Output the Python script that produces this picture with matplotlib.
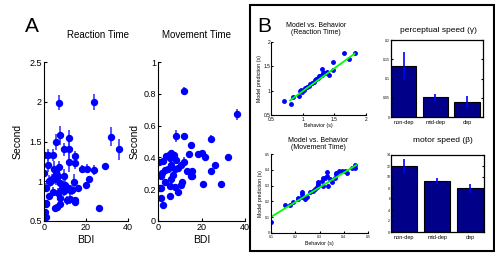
import matplotlib
matplotlib.use("Agg")
import matplotlib.pyplot as plt
import numpy as np
from matplotlib.patches import Rectangle

plt.rcParams['font.family'] = ['Liberation Sans', 'DejaVu Sans']

# Panel A: reaction time vs BDI
rt_bdi = [7.1, 23.8, 32, 35.9, 7.8, 5.8, 11.8, 9.7, 12.1, 0, 2, 4.2, 14.9, 14.9, 11.8,
          1.9, 7.1, 4.7, 18.0, 20.4, 24, 29, 0, 5.8, 9.3, 6.6, 5, 4, 2.4, 21.2,
          14.1, 3, 5.5, 7.4, 10.2, 11.3, 12.5, 8.2, 9.4, 19.9, 0.8, 4.2, 16, 6.6, 2.4,
          10.8, 14.9, 14.9, 7.8, 0.8, 1.1, 5, 6.3, 7.8, 26.2, 0.3, 0.8, 12.5, 13.3]
rt_val = [1.99, 2.0, 1.56, 1.4, 1.58, 1.49, 1.54, 1.4, 1.4, 1.33, 1.33, 1.33, 1.32, 1.23, 1.24,
          1.2, 1.18, 1.16, 1.16, 1.16, 1.14, 1.19, 1.11, 1.12, 1.07, 1.07, 1.06, 1.03, 1.0, 1.03,
          0.99, 0.99, 1.03, 0.98, 0.95, 0.91, 0.89, 0.89, 0.88, 0.95, 0.92, 0.87, 0.91, 0.85, 0.81,
          0.76, 0.74, 0.76, 0.79, 0.73, 0.71, 0.66, 0.67, 0.71, 0.66, 0.61, 0.55, 0.78, 0.89]
rt_err = [0.1, 0.1, 0.12, 0.13, 0.12, 0.1, 0.1, 0.08, 0.12, 0.1, 0.08, 0.08, 0.06, 0.08, 0.12,
          0.08, 0.08, 0.1, 0.04, 0.06, 0.06, 0.04, 0.08, 0.06, 0.08, 0.08, 0.1, 0.06, 0.08, 0.04,
          0.1, 0.06, 0.08, 0.06, 0.06, 0.06, 0.06, 0.06, 0.06, 0.04, 0.06, 0.06, 0.04, 0.06, 0.04,
          0.06, 0.04, 0.04, 0.04, 0.04, 0.04, 0.03, 0.03, 0.04, 0.02, 0.03, 0.03, 0.06, 0.06]

# Panel A: movement time vs BDI
mt_bdi = [12.1, 36.1, 8.1, 12.1, 24.2, 15.2, 0.3, 2.3, 3.9, 4.9, 6.2, 7.3, 5.4, 8.2, 18.3,
          20.3, 21.4, 14.3, 32.2, 12.1, 10.5, 9.3, 7.8, 6.2, 4.7, 3.1, 1.9, 1.2, 13.2, 15.5,
          15.8, 15.2, 26, 24.3, 3.4, 6.2, 5.4, 7.8, 10.5, 11.2, 9.3, 0.8, 0, 1.6, 20.5,
          29.1, 1.2, 5.4, 2.3, 7.0]
mt_val = [0.82, 0.67, 0.535, 0.535, 0.516, 0.48, 0.37, 0.38, 0.41, 0.415, 0.425, 0.415, 0.395, 0.385, 0.42,
          0.43, 0.40, 0.42, 0.40, 0.37, 0.35, 0.335, 0.33, 0.35, 0.33, 0.32, 0.30, 0.285, 0.315, 0.315,
          0.285, 0.285, 0.35, 0.315, 0.245, 0.265, 0.22, 0.215, 0.225, 0.245, 0.185, 0.21, 0.205, 0.21, 0.23,
          0.23, 0.145, 0.16, 0.10, 0.29]
mt_err = [0.02, 0.035, 0.04, 0.02, 0.025, 0.015, 0.015, 0.01, 0.01, 0.015, 0.015, 0.01, 0.01, 0.01, 0.01,
          0.01, 0.01, 0.01, 0.01, 0.03, 0.01, 0.01, 0.01, 0.01, 0.01, 0.01, 0.01, 0.01, 0.01, 0.01,
          0.01, 0.01, 0.01, 0.01, 0.01, 0.01, 0.01, 0.01, 0.01, 0.01, 0.01, 0.01, 0.01, 0.01, 0.01,
          0.02, 0.01, 0.01, 0.01, 0.01]

# Panel B: model vs behavior
rt_beh = [0.71, 0.81, 0.85, 0.94, 0.96, 0.98, 0.99, 1.02, 1.04, 1.07, 1.10, 1.12, 1.15, 1.18, 1.20,
          1.21, 1.24, 1.26, 1.28, 1.30, 1.31, 1.32, 1.34, 1.36, 1.39, 1.41, 1.48, 1.48, 1.65, 1.73, 1.83]
rt_mod = [0.79, 0.72, 0.87, 0.89, 0.99, 1.02, 0.98, 1.02, 1.06, 1.07, 1.09, 1.13, 1.16, 1.18, 1.21,
          1.23, 1.26, 1.30, 1.30, 1.33, 1.45, 1.36, 1.37, 1.37, 1.39, 1.32, 1.42, 1.58, 1.78, 1.66, 1.78]
rt_fit_x = [0.8, 1.82]
rt_fit_y = [0.8, 1.76]

mt_beh = [0.1, 0.157, 0.178, 0.192, 0.21, 0.212, 0.226, 0.226, 0.226, 0.242, 0.247, 0.26, 0.274, 0.28,
          0.29, 0.295, 0.293, 0.295, 0.312, 0.314, 0.323, 0.33, 0.33, 0.316, 0.334, 0.345, 0.363, 0.35,
          0.366, 0.38, 0.393, 0.404, 0.414, 0.434, 0.448, 0.448, 0.368]
mt_mod = [0.068, 0.18, 0.18, 0.195, 0.213, 0.22, 0.23, 0.26, 0.245, 0.213, 0.23, 0.26, 0.266, 0.277,
          0.294, 0.30, 0.31, 0.32, 0.33, 0.345, 0.35, 0.383, 0.36, 0.30, 0.30, 0.34, 0.35, 0.32,
          0.38, 0.39, 0.39, 0.39, 0.38, 0.41, 0.43, 0.41, 0.375]
mt_fit_x = [0.1, 0.452]
mt_fit_y = [0.102, 0.43]

groups = ['non-dep', 'mid-dep', 'dep']
gamma = [0.132, 0.051, 0.040]
gamma_lo = [0.096, 0.042, 0.024]
gamma_hi = [0.168, 0.059, 0.054]
beta = [11.95, 9.3, 7.97]
beta_lo = [10.5, 8.8, 7.06]
beta_hi = [13.3, 9.8, 8.7]

W, H = 495, 254


def px(l, t, r, b):
    return [l / W, 1 - b / H, (r - l) / W, (b - t) / H]


fig = plt.figure(figsize=(W / 100, H / 100), dpi=100)

blue = '#0000ff'


def style_open(ax, size):
    ax.spines['top'].set_visible(False)
    ax.spines['right'].set_visible(False)
    ax.tick_params(direction='in', length=2.5, width=0.8, labelsize=size, pad=1.5)


# ---- panel A
axA1 = fig.add_axes(px(44, 62, 128, 221))
axA1.errorbar(rt_bdi, rt_val, yerr=rt_err, fmt='o', color=blue, ecolor='#3a3aff',
              elinewidth=1.2, markersize=4.3, capsize=0)
axA1.set_xlim(0, 40)
axA1.set_ylim(0.5, 2.5)
axA1.set_xticks([0, 20, 40])
axA1.set_yticks([0.5, 1, 1.5, 2, 2.5])
axA1.set_yticklabels(['0.5', '1', '1.5', '2', '2.5'])
style_open(axA1, 6.5)
axA1.set_xlabel('BDI', fontsize=7.5, labelpad=2)
axA1.set_ylabel('Second', fontsize=7.5, labelpad=5)

axA2 = fig.add_axes(px(158, 62, 245, 221))
axA2.errorbar(mt_bdi, mt_val, yerr=mt_err, fmt='o', color=blue, ecolor='#3a3aff',
              elinewidth=1.2, markersize=4.3, capsize=0)
axA2.set_xlim(0, 40)
axA2.set_ylim(0, 1)
axA2.set_xticks([0, 20, 40])
axA2.set_yticks([0, 0.2, 0.4, 0.6, 0.8, 1])
axA2.set_yticklabels(['0', '0.2', '0.4', '0.6', '0.8', '1'])
style_open(axA2, 6.5)
axA2.set_xlabel('BDI', fontsize=7.5, labelpad=2)
axA2.set_ylabel('Second', fontsize=7.5, labelpad=3)

fig.text(25 / W, 1 - 27 / H, 'A', fontsize=15, va='center', ha='left')
fig.text(98 / W, 1 - 35 / H, 'Reaction Time', fontsize=7, ha='center', va='center')
fig.text(197 / W, 1 - 35 / H, 'Movement Time', fontsize=7, ha='center', va='center')

# ---- panel B box
fig.patches.append(Rectangle((250 / W, 1 - 251 / H), 244 / W, 246 / H,
                             transform=fig.transFigure, fill=False, lw=1.5, ec='black'))
fig.text(257 / W, 1 - 26 / H, 'B', fontsize=15, va='center', ha='left')

axB1 = fig.add_axes(px(271, 42, 366, 115))
axB1.plot(rt_beh, rt_mod, 'o', color=blue, markersize=2.5)
axB1.plot(rt_fit_x, rt_fit_y, color='#00ff00', lw=1.3)
axB1.set_xlim(0.5, 2)
axB1.set_ylim(0.5, 2)
axB1.set_xticks([0.5, 1, 1.5, 2])
axB1.set_xticklabels(['0.5', '1', '1.5', '2'])
axB1.set_yticks([0.5, 1, 1.5, 2])
axB1.set_yticklabels(['0.5', '1', '1.5', '2'])
style_open(axB1, 3.5)
axB1.tick_params(length=1.5, pad=0.5)
axB1.tick_params(axis='x', pad=1.5)
axB1.set_xlabel('Behavior (s)', fontsize=3.8, labelpad=0.3)
axB1.set_ylabel('Model prediction (s)', fontsize=3.8, labelpad=1)
fig.text(316 / W, 1 - 29 / H, 'Model vs. Behavior\n(Reaction Time)', fontsize=5,
         ha='center', va='center', linespacing=1.1)

axB2 = fig.add_axes(px(271, 154, 368, 233))
axB2.plot(mt_beh, mt_mod, 'o', color=blue, markersize=2.5)
axB2.plot(mt_fit_x, mt_fit_y, color='#00ff00', lw=1.3)
axB2.set_xlim(0.1, 0.5)
axB2.set_ylim(0, 0.5)
axB2.set_xticks([0.1, 0.2, 0.3, 0.4, 0.5])
axB2.set_yticks([0, 0.1, 0.2, 0.3, 0.4, 0.5])
axB2.set_yticklabels(['0', '0.1', '0.2', '0.3', '0.4', '0.5'])
style_open(axB2, 2.5)
axB2.tick_params(length=1.5, pad=0.5)
axB2.tick_params(axis='x', pad=1.5)
axB2.set_xlabel('Behavior (s)', fontsize=3.8, labelpad=1.2)
axB2.set_ylabel('Model prediction (s)', fontsize=3.8, labelpad=2)
fig.text(318 / W, 1 - 144 / H, 'Model vs. Behavior\n(Movement Time)', fontsize=5,
         ha='center', va='center', linespacing=1.1)


def bars(ax, vals, lo, hi):
    pos = np.arange(1, len(vals) + 1)
    ax.bar(pos, vals, width=0.8, color='#000088', edgecolor='black', lw=0.8)
    ax.vlines(pos, lo, hi, color=blue, lw=1.2)
    ax.set_xticks(pos)
    ax.set_xticklabels(groups, fontsize=4)
    ax.tick_params(axis='x', length=0, pad=2)
    ax.tick_params(axis='y', direction='in', length=1.5, labelsize=2.5, pad=0.5,
                   right=True)
    for s in ax.spines.values():
        s.set_linewidth(0.9)


axB3 = fig.add_axes(px(391, 40, 483, 117))
bars(axB3, gamma, gamma_lo, gamma_hi)
axB3.set_xlim(0.6, 3.5)
axB3.set_ylim(0, 0.2)
axB3.set_yticks([0, 0.05, 0.1, 0.15, 0.2])
axB3.set_yticklabels(['0', '0.05', '0.1', '0.15', '0.2'])
fig.text(438 / W, 1 - 30 / H, 'perceptual speed (\u03b3)', fontsize=6, ha='center', va='center')

axB4 = fig.add_axes(px(391, 155, 484, 232))
bars(axB4, beta, beta_lo, beta_hi)
axB4.set_xlim(0.6, 3.42)
axB4.set_ylim(0, 14)
axB4.set_yticks(range(0, 15, 2))
fig.text(443 / W, 1 - 140 / H, 'motor speed (\u03b2)', fontsize=6, ha='center', va='center')

fig.savefig('out.png', dpi=100)
